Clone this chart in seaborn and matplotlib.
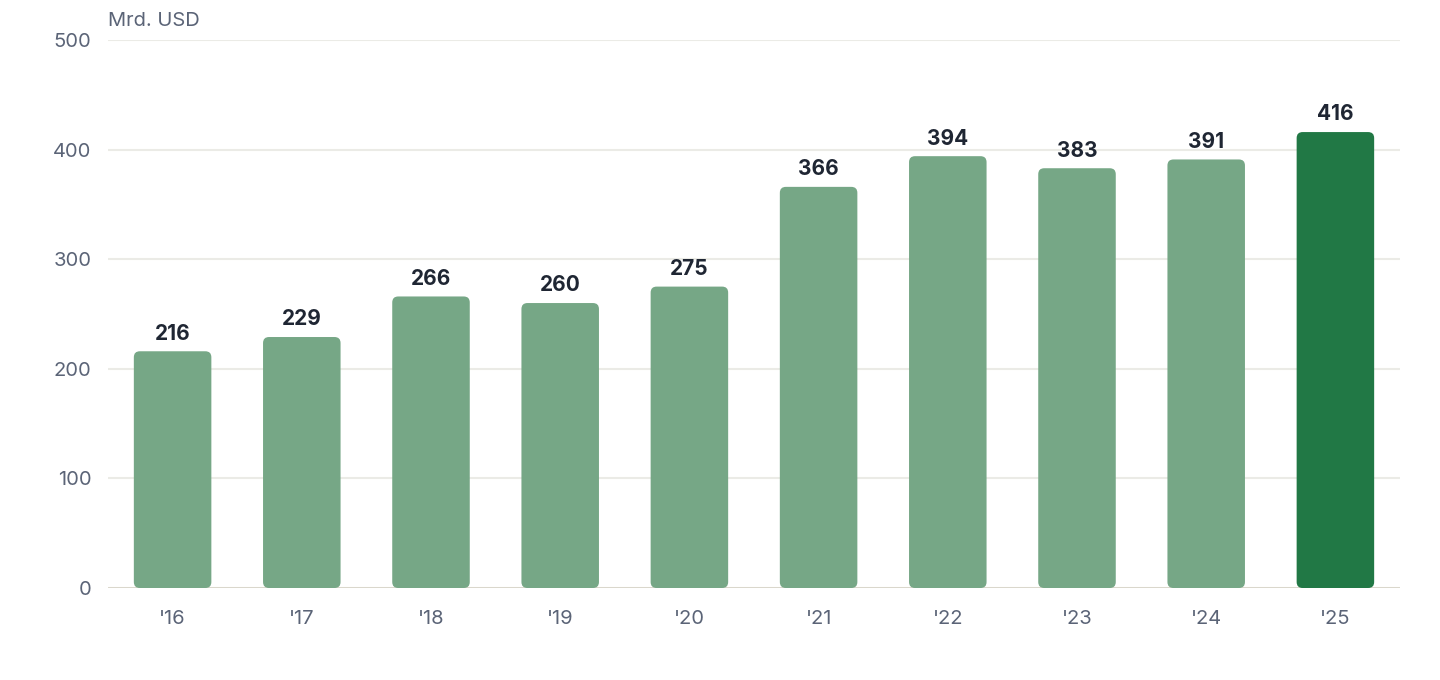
import matplotlib
matplotlib.use("Agg")
import matplotlib.pyplot as plt
import numpy as np
import pandas as pd
import seaborn as sns
from matplotlib.patches import FancyBboxPatch

# Date
ani = ["'16", "'17", "'18", "'19", "'20", "'21", "'22", "'23", "'24", "'25"]
valori = [216, 229, 266, 260, 275, 366, 394, 383, 391, 416]
culori = ["#76a786"] * 9 + ["#217845"]

sns.set_theme(style="white")
plt.rcParams["font.family"] = ["Inter", "DejaVu Sans"]

df = pd.DataFrame({"an": ani, "valoare": valori})

fig = plt.figure(figsize=(14.4, 6.8), dpi=100)
ax = fig.add_axes([108 / 1440, 92 / 680, 1292 / 1440, 548 / 680])

sns.barplot(data=df, x="an", y="valoare", hue="an", palette=culori,
            saturation=1, legend=False, width=0.6, ax=ax, zorder=3)

ax.set_xlim(-0.5, len(ani) - 0.5)
ax.set_ylim(0, 500)

# raza de rotunjire in pixeli -> unitati de date
px_x = 1292 / len(ani)
px_y = 548 / 500
raza = 6
for p in list(ax.patches):
    x, y = p.get_x(), p.get_y()
    w, h = p.get_width(), p.get_height()
    fc = p.get_facecolor()
    p.remove()
    ax.add_patch(FancyBboxPatch(
        (x, y), w, h,
        boxstyle=f"round,pad=0,rounding_size={raza / px_x}",
        mutation_aspect=(raza / px_y) / (raza / px_x),
        facecolor=fc, edgecolor="none", zorder=3))

for i, v in enumerate(valori):
    ax.text(i, v + 7, str(v), ha="center", va="bottom", fontsize=15,
            fontweight="bold", color="#1f2633", zorder=4)

ax.set_yticks(range(0, 501, 100))
ax.yaxis.grid(True, color="#ebebe6", linewidth=1.5, zorder=0)
ax.axhline(0, color="#d9d5c9", linewidth=2, zorder=2)
for s in ax.spines.values():
    s.set_visible(False)
ax.tick_params(axis="both", length=0, labelsize=14.5, labelcolor="#5b6477")
ax.tick_params(axis="y", pad=12)
ax.tick_params(axis="x", pad=16)
ax.set_xlabel("")
ax.set_ylabel("")

fig.text(108 / 1440, 1 - 21 / 680, "Mrd. USD", fontsize=14.5, color="#5b6477",
         ha="left", va="center")

fig.savefig("out.png", dpi=100, facecolor="white")
